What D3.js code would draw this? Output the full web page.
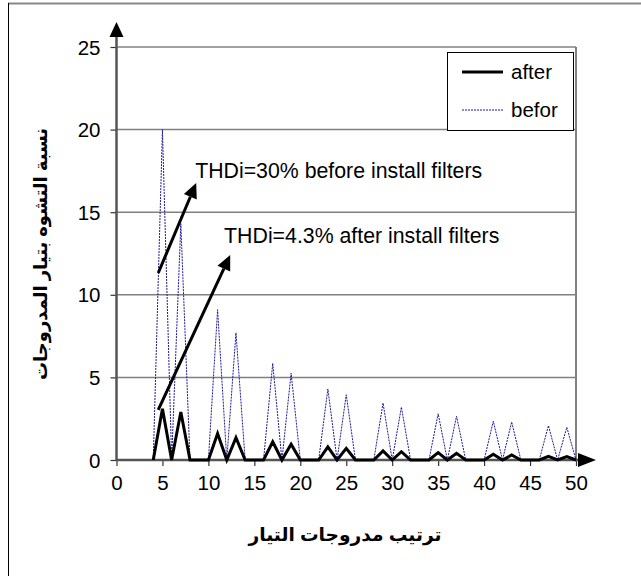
<!DOCTYPE html>
<html>
<head>
<meta charset="utf-8">
<script src="https://cdn.jsdelivr.net/npm/d3@7"></script>
<style>
  html, body { margin: 0; padding: 0; background: #fff; }
  svg { display: block; }
</style>
</head>
<body>
<svg id="chart" width="641" height="576"></svg>
<script>
// ---- data ----
const orders = [4,5,6,7,8,9,10,11,12,13,14,15,16,17,18,19,20,21,22,23,24,25,26,27,28,29,30,31,32,33,34,35,36,37,38,39,40,41,42,43,44,45,46,47,48,49,50];
const befor  = [0,20,0,14.3,0,0,0,9.1,0,7.7,0,0,0,5.85,0,5.25,0,0,0,4.3,0,3.95,0,0,0,3.45,0,3.2,0,0,0,2.8,0,2.65,0,0,0,2.35,0,2.3,0,0,0,2.08,0,1.98,0];
const after  = [0,3.1,0,2.9,0,0,0,1.6,0,1.35,0,0,0,1.1,0,0.95,0,0,0,0.8,0,0.7,0,0,0,0.55,0,0.5,0,0,0,0.45,0,0.4,0,0,0,0.35,0,0.3,0,0,0,0.22,0,0.2,0];
const xTicks = [0,5,10,15,20,25,30,35,40,45,50];
const yTicks = [0,5,10,15,20,25];
const seriesNames = ["after","befor"];
const xTitle = "ترتيب مدروجات التيار";
const yTitle = "نسبة التشوه بتيار المدروجات";
const notes = [
  {text:"THDi=30% before install filters", x0:4.54, y0:11.32, x1:8.67, y1:16.77, tx:8.56, ty:17.07},
  {text:"THDi=4.3% after install filters", x0:4.54, y0:3.03, x1:12.37, y1:12.41, tx:11.71, ty:13.12}
];

// ---- layout ----
const svg = d3.select("#chart");
const L = 116.5, R = 576, T = 47, B = 460;
const x = d3.scaleLinear().domain([0,50]).range([L,R]);
const y = d3.scaleLinear().domain([0,25]).range([B,T]);
const font = "'Liberation Sans', Arial, 'DejaVu Sans', sans-serif";

// outer frame (right/bottom edges outside the picture)
svg.append("line").attr("x1",8).attr("x2",660).attr("y1",3.5).attr("y2",3.5).attr("stroke","#888").attr("stroke-width",2);
svg.append("line").attr("x1",8.5).attr("x2",8.5).attr("y1",3).attr("y2",600).attr("stroke","#000").attr("stroke-width",1);

// gridlines
svg.append("g").selectAll("line").data(yTicks.filter(d=>d>0)).join("line")
  .attr("x1",L).attr("x2",R).attr("y1",d=>y(d)).attr("y2",d=>y(d))
  .attr("stroke","#808080").attr("stroke-width",1.5);
// right border of plot
svg.append("line").attr("x1",R).attr("x2",R).attr("y1",T).attr("y2",B).attr("stroke","#808080").attr("stroke-width",2);

// y axis
const yAxis = d3.axisLeft(y).tickValues(yTicks).tickSize(6).tickPadding(10);
const gy = svg.append("g").attr("transform",`translate(${L},0)`).call(yAxis);
gy.select(".domain").remove();
gy.selectAll(".tick line").attr("stroke","#333").attr("stroke-width",1.2);
gy.selectAll(".tick text").attr("font-family",font).attr("font-size",20.5).attr("fill","#000").attr("dy","0.35em");
svg.append("line").attr("x1",L).attr("x2",L).attr("y1",B).attr("y2",35).attr("stroke","#555").attr("stroke-width",2.5);
svg.append("path").attr("d",`M${L-7},${37} L${L},${22} L${L+7},${37} Z`).attr("fill","#000");

// x axis
const xAxis = d3.axisBottom(x).tickValues(xTicks).tickSize(6).tickPadding(9);
const gx = svg.append("g").attr("transform",`translate(0,${B})`).call(xAxis);
gx.select(".domain").remove();
gx.selectAll(".tick line").attr("stroke","#333").attr("stroke-width",1.2);
gx.selectAll(".tick text").attr("font-family",font).attr("font-size",20.5).attr("fill","#000");
svg.append("line").attr("x1",L).attr("x2",582).attr("y1",B).attr("y2",B).attr("stroke","#555").attr("stroke-width",2.5);

// series
const befData = orders.map((o,i)=>[o,befor[i]]);
const aftData = orders.map((o,i)=>[o,after[i]]);
const line = d3.line().x(d=>x(d[0])).y(d=>y(d[1]));
svg.append("path").datum(befData).attr("d",line).attr("fill","none")
  .attr("stroke","#1b1b9a").attr("stroke-width",1).attr("stroke-dasharray","2,1");
svg.append("path").datum(aftData).attr("d",line).attr("fill","none")
  .attr("stroke","#000").attr("stroke-width",3).attr("stroke-linejoin","miter");

// x arrowhead
svg.append("path").attr("d",`M${578},${B-7} L${596},${B} L${578},${B+7} Z`).attr("fill","#000");

// annotations
notes.forEach(n=>{
  const ax0=x(n.x0), ay0=y(n.y0), ax1=x(n.x1), ay1=y(n.y1);
  const ang=Math.atan2(ay1-ay0, ax1-ax0);
  const hl=15, hw=7;
  const bx=ax1-hl*Math.cos(ang), by=ay1-hl*Math.sin(ang);
  svg.append("line").attr("x1",ax0).attr("y1",ay0).attr("x2",bx).attr("y2",by)
    .attr("stroke","#000").attr("stroke-width",3);
  const px=-Math.sin(ang), py=Math.cos(ang);
  svg.append("path").attr("d",`M${ax1},${ay1} L${bx+hw*px},${by+hw*py} L${bx-hw*px},${by-hw*py} Z`).attr("fill","#000");
  svg.append("text").attr("x",x(n.tx)).attr("y",y(n.ty)).text(n.text)
    .attr("font-family",font).attr("font-size",21.3).attr("fill","#000");
});

// legend
const lg = svg.append("g");
lg.append("rect").attr("x",447.5).attr("y",52.5).attr("width",126).attr("height",78)
  .attr("fill","#fff").attr("stroke","#000").attr("stroke-width",1);
const legY = [72,110];
seriesNames.forEach((s,i)=>{
  lg.append("line").attr("x1",462).attr("x2",503).attr("y1",legY[i]).attr("y2",legY[i])
    .attr("stroke", i===0?"#000":"#1b1b9a").attr("stroke-width", i===0?3:1)
    .attr("stroke-dasharray", i===0?null:"2,1");
  lg.append("text").attr("x",511).attr("y",legY[i]).attr("dy","0.35em").text(s)
    .attr("font-family",font).attr("font-size",20.5).attr("fill","#000");
});

// axis titles
svg.append("text").attr("x",345).attr("y",541).attr("text-anchor","middle")
  .attr("direction","rtl").attr("font-family",font).attr("font-weight","bold").attr("font-size",18.6).text(xTitle);
svg.append("text").attr("transform","translate(47,254) rotate(-90)").attr("text-anchor","middle")
  .attr("direction","rtl").attr("font-family",font).attr("font-weight","bold").attr("font-size",18).text(yTitle);
</script>
</body>
</html>
